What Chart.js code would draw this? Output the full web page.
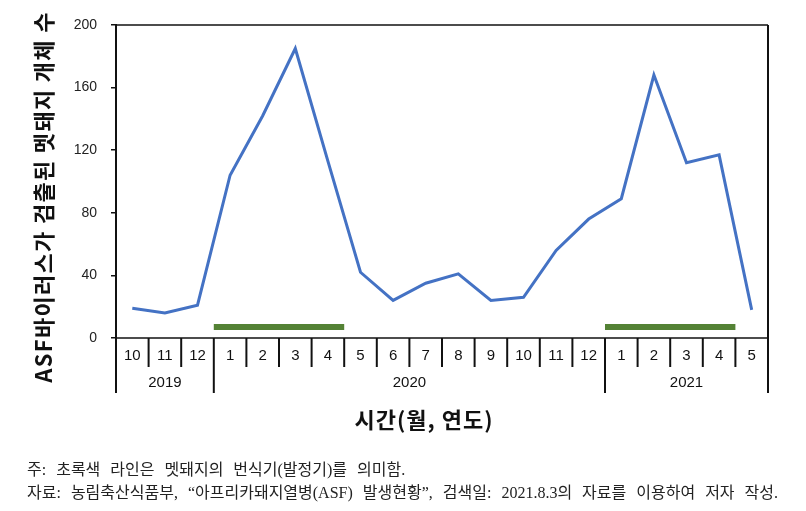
<!DOCTYPE html>
<html><head><meta charset="utf-8">
<script src="https://cdn.jsdelivr.net/npm/chart.js@4.4.0/dist/chart.umd.min.js"></script>
<style>
html,body{margin:0;padding:0;background:#fff;}
#wrap{position:relative;width:806px;height:511px;overflow:hidden;}
canvas{position:absolute;left:0;top:0;}
.note{position:absolute;left:27px;font-family:"Liberation Serif","Noto Sans CJK KR",serif;font-size:16px;line-height:18px;color:#222;white-space:nowrap;word-spacing:6px;}
</style></head><body>
<div id="wrap">
<canvas id="c" width="806" height="511"></canvas>
<div class="note" id="n1" style="top:461px">주: 초록색 라인은 멧돼지의 번식기(발정기)를 의미함.</div>
<div class="note" id="n2" style="top:484px">자료: 농림축산식품부, “아프리카돼지열병(ASF) 발생현황”, 검색일: 2021.8.3의 자료를 이용하여 저자 작성.</div>
</div>
<script>
// ---- data ----
const months = ['10','11','12','1','2','3','4','5','6','7','8','9','10','11','12','1','2','3','4','5'];
const years = ['2019','2020','2021'];
const yearSpans = [3, 12, 5];
const counts = [19, 16, 21, 104, 142, 185, 113, 42, 24, 35, 41, 24, 26, 56, 76, 89, 168, 112, 117, 18];
const breedingStart = [3, 15];   // month index (Jan 2020, Jan 2021)
const breedingEnd = [6, 18];     // month index (Apr 2020, Apr 2021)
const breedingLevel = 7;
const yTicks = [0, 40, 80, 120, 160, 200];
const yTitle = 'ASF바이러스가 검출된 멧돼지 개체 수';
const xTitle = '시간(월, 연도)';

const datasets = [{
  data: counts.map((v, i) => ({x: i, y: v})),
  borderColor: '#4472C4', borderWidth: 3, pointRadius: 0, tension: 0,
  borderJoinStyle: 'miter', order: 1
}];
breedingStart.forEach((s, k) => {
  datasets.push({
    data: [{x: s - 0.5, y: breedingLevel}, {x: breedingEnd[k] + 0.5, y: breedingLevel}],
    borderColor: '#548235', borderWidth: 6, pointRadius: 0, borderCapStyle: 'butt', order: 2
  });
});

const frame = {
  id: 'frame',
  afterDraw(chart) {
    const ctx = chart.ctx, a = chart.chartArea, xs = chart.scales.x;
    const L = a.left, R = a.right, T = a.top, B = a.bottom;
    const tableBottom = B + 55, monthBottom = B + 29;
    ctx.save();
    ctx.strokeStyle = '#111';
    ctx.lineWidth = 1.5;
    ctx.beginPath(); ctx.moveTo(L, T); ctx.lineTo(R, T); ctx.stroke();
    ctx.beginPath(); ctx.moveTo(L, B); ctx.lineTo(R, B); ctx.stroke();
    ctx.lineWidth = 2;
    ctx.beginPath(); ctx.moveTo(L, T); ctx.lineTo(L, tableBottom); ctx.stroke();
    ctx.beginPath(); ctx.moveTo(R, T); ctx.lineTo(R, tableBottom); ctx.stroke();
    const yearBounds = [];
    let acc = 0;
    yearSpans.forEach(s => { acc += s; yearBounds.push(acc); });
    for (let i = 1; i < months.length; i++) {
      const x = xs.getPixelForValue(i - 0.5);
      const isYear = yearBounds.includes(i);
      ctx.beginPath(); ctx.moveTo(x, B); ctx.lineTo(x, isYear ? tableBottom : monthBottom); ctx.stroke();
    }
    ctx.fillStyle = '#111';
    ctx.font = '15px "Liberation Sans", Arial, sans-serif';
    ctx.textAlign = 'center'; ctx.textBaseline = 'middle';
    months.forEach((m, i) => ctx.fillText(m, xs.getPixelForValue(i), B + 18));
    let st = 0;
    years.forEach((y, k) => {
      const c = xs.getPixelForValue(st + (yearSpans[k] - 1) / 2);
      ctx.fillText(y, c, B + 45);
      st += yearSpans[k];
    });
    // x title
    ctx.font = 'bold 22px "Noto Sans CJK KR", sans-serif';
    ctx.letterSpacing = '1px';
    ctx.fillText(xTitle, 424, 420);
    // y title
    ctx.save();
    ctx.translate(44, 197);
    ctx.rotate(-Math.PI / 2);
    ctx.font = 'bold 22px "Noto Sans CJK KR", sans-serif';
    ctx.letterSpacing = '1.3px';
    ctx.fillText(yTitle, 0, 0);
    ctx.restore();
    ctx.letterSpacing = '0px';
    ctx.restore();
  }
};

new Chart(document.getElementById('c'), {
  type: 'line',
  data: {datasets},
  options: {
    responsive: false, animation: false,
    layout: {padding: {left: 0, right: 38, top: 25, bottom: 173}},
    plugins: {legend: {display: false}, tooltip: {enabled: false}},
    scales: {
      x: {type: 'linear', min: -0.5, max: 19.5, display: false},
      y: {
        min: 0, max: 200,
        afterFit: s => { s.width = 116; },
        afterBuildTicks: s => { s.ticks = yTicks.map(v => ({value: v})); },
        ticks: {padding: 14, color: '#222', font: {family: '"Liberation Sans", Arial, sans-serif', size: 14}},
        grid: {drawOnChartArea: false, drawTicks: true, tickLength: 5, color: '#111', lineWidth: 1.5},
        border: {display: true, color: '#111', width: 2}
      }
    }
  },
  plugins: [frame]
});
</script>
</body></html>
